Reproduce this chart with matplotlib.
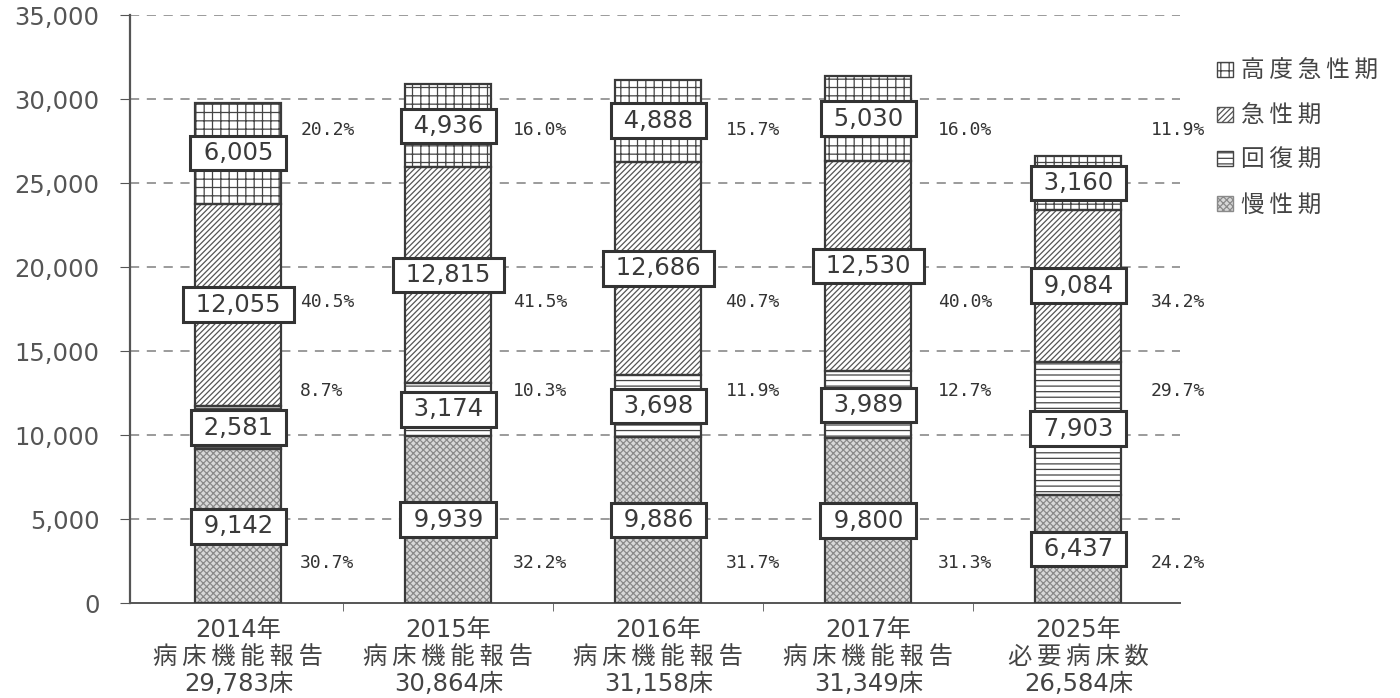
import numpy as np
import matplotlib.pyplot as plt
from matplotlib.patches import Patch

plt.rcParams['font.family'] = ['DejaVu Sans', 'Noto Sans CJK JP']
plt.rcParams['hatch.linewidth'] = 0.9


def spaced(s):
    # open up the CJK lines a little, as in the printed table
    return '\u2009'.join(s)


# beds by function (慢性期, 回復期, 急性期, 高度急性期) per report year
years = ['2014年', '2015年', '2016年', '2017年', '2025年']
sources = ['病床機能報告', '病床機能報告', '病床機能報告', '病床機能報告', '必要病床数']
bed_totals = ['29,783床', '30,864床', '31,158床', '31,349床', '26,584床']
chronic = [9142, 9939, 9886, 9800, 6437]
recovery = [2581, 3174, 3698, 3989, 7903]
acute = [12055, 12815, 12686, 12530, 9084]
high_acute = [6005, 4936, 4888, 5030, 3160]

series = [chronic, recovery, acute, high_acute]
names = ['慢性期', '回復期', '急性期', '高度急性期']
hatches = ['xxxxx', '---', '//////', '++']
faces = ['#d8d8d8', 'white', 'white', 'white']
hatch_cols = ['#8a8a8a', '#444444', '#555555', '#444444']

# rows where the share labels sit
pct_rows = [2400, 12600, 17900, 28150]

categories = [f'{y}\n{spaced(s)}\n{t}' for y, s, t in zip(years, sources, bed_totals)]
x = np.arange(len(categories))
w = 0.41
totals = np.sum(series, axis=0)

fig = plt.figure(figsize=(14, 6.98), dpi=100)
ax = fig.add_axes([0.093, 0.136, 0.75, 0.8425])

for y in range(5000, 35001, 5000):
    ax.axhline(y, color='#808080', lw=1.1, ls=(0, (6, 5)), zorder=0)

bottom = np.zeros(len(x))
for vals, h, fc, hc in zip(series, hatches, faces, hatch_cols):
    ax.bar(x, vals, w, bottom=bottom, color=fc, edgecolor=hc, hatch=h, lw=0, zorder=2)
    ax.bar(x, vals, w, bottom=bottom, fill=False, edgecolor='#3a3a3a', lw=1.6, zorder=3)
    for i, v in enumerate(vals):
        ax.text(x[i], bottom[i] + v / 2, f' {v:,} ', ha='center', va='center',
                fontsize=17.5, color='#3a3a3a', zorder=5,
                bbox=dict(boxstyle='square,pad=0.22', fc='white', ec='#333333', lw=2.2))
    bottom += vals

for k, vals in enumerate(series):
    for i, v in enumerate(vals):
        ax.text(x[i] + 0.295 + 0.012 * i, pct_rows[k], f'{v / totals[i] * 100:.1f}%',
                ha='left', va='center', fontsize=13, color='#333333',
                family='DejaVu Sans Mono')

ax.set_xlim(-0.515, 4.485)
ax.set_ylim(0, 35000)
ax.set_yticks(range(0, 35001, 5000))
ax.set_yticklabels([f'{t:,}' for t in range(0, 35001, 5000)], fontsize=17.5, color='#555555')
ax.set_xticks(x)
ax.set_xticklabels(categories, fontsize=17.5, color='#444444', linespacing=1.17)
ax.set_xticks(x[:-1] + 0.5, minor=True)
ax.tick_params(axis='x', which='major', length=0, pad=10.5)
ax.tick_params(axis='x', which='minor', length=6, color='#555555')
ax.tick_params(axis='y', length=7, color='#555555', pad=15)

for s in ['top', 'right']:
    ax.spines[s].set_visible(False)
ax.spines['left'].set_color('#555555')
ax.spines['bottom'].set_color('#555555')
ax.spines['left'].set_linewidth(1.6)
ax.spines['bottom'].set_linewidth(1.4)

handles = [Patch(facecolor=faces[k], edgecolor=hatch_cols[k], hatch=hatches[k],
                 label=spaced(names[k])) for k in range(3, -1, -1)]
ax.legend(handles=handles, loc='upper left', bbox_to_anchor=(1.015, 0.962), frameon=False,
          fontsize=17, handlelength=0.65, handleheight=0.6, handletextpad=0.35,
          labelspacing=0.88, labelcolor='#444444')

fig.savefig('out.png', dpi=100, facecolor='white')
